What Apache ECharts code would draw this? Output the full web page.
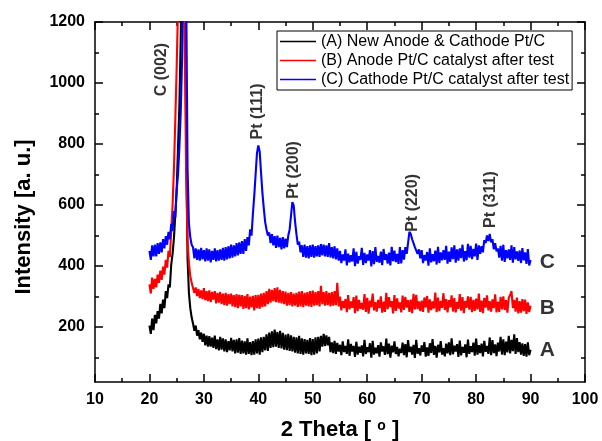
<!DOCTYPE html>
<html>
<head>
<meta charset="utf-8">
<script src="https://cdn.jsdelivr.net/npm/echarts@6/dist/echarts.min.js"></script>
<style>html,body{margin:0;padding:0;background:#fff}#c{width:602px;height:441px}</style>
</head>
<body>
<div id="c"></div>
<script>
// 2θ sampling grid (degrees)
const twoThetaStart = 20, twoThetaStep = 0.25;

// (A) New Anode & Cathode Pt/C  -- 4 samples per degree, 20..90
const seriesA = [
205,178,228,190, 240,212,252,228, 276,245,290,262, 318,295,340,330, 405,440,492,568,
650,790,925,1150, 1500,1900,1400,800, 425,312,262,232, 212,188,205,172, 190,160,182,152,
178,140,172,136, 170,136,165,132, 172,128,160,124, 168,126,163,120, 160,118,154,124,
165,120,158,114, 160,116,164,112, 156,114,153,110, 163,112,151,108, 154,110,160,114,
162,110,166,118, 168,124,176,122, 182,132,186,134, 192,136,184,132, 188,130,181,126,
175,124,178,122, 173,120,168,116, 166,114,171,112, 163,110,161,114, 158,112,164,108,
161,110,166,114, 168,120,171,136, 178,138,173,140, 168,118,150,115, 155,112,148,120,
142,108,153,118, 138,112,160,106, 145,120,138,102, 152,110,136,116, 140,104,158,112,
134,118,147,100, 155,110,132,114, 141,103,150,120, 137,109,162,111, 146,100,139,117,
153,112,135,104, 129,115,149,108, 144,101,157,118, 136,110,142,99, 158,113,131,107,
140,119,151,103, 133,106,147,115, 161,109,138,100, 142,117,154,110, 131,104,146,114,
150,108,163,111, 139,120,144,102, 156,107,135,116, 143,101,159,112, 137,118,149,106,
162,110,141,115, 146,104,155,119, 138,112,166,108, 157,115,143,105, 149,120,168,110,
160,108,152,117, 171,114,158,121, 176,112,164,118, 151,110,147,106, 144,103,150,108,
126
];

// (B) Anode Pt/C catalyst after test
const seriesB = [
340,310,362,325, 358,330,372,345, 385,355,398,372, 420,395,450,430, 515,600,720,880,
1050,1250,1500,1750, 1800,1600,1100,700, 480,410,368,345, 340,312,330,302, 325,295,320,292,
328,288,318,285, 320,282,315,290, 318,278,312,280, 315,275,310,272, 312,270,308,275,
310,268,305,265, 308,262,306,268, 305,260,302,262, 308,258,300,265, 302,255,305,262,
306,260,310,265, 312,268,318,275, 325,280,322,285, 328,282,330,280, 322,278,318,275,
316,270,312,272, 315,268,310,270, 312,266,316,268, 318,265,312,270, 315,268,318,266,
320,270,315,272, 318,268,335,275, 315,270,318,272, 312,268,315,270, 318,272,345,268,
300,255,286,262, 292,249,305,258, 284,263,298,246, 303,252,289,260, 279,257,308,250,
296,244,287,265, 310,255,282,251, 289,262,301,247, 283,250,312,259, 298,266,285,245,
305,253,294,261, 281,248,303,256, 299,264,288,250, 290,246,309,258, 306,259,284,252,
287,250,297,265, 302,247,291,256, 284,261,313,249, 297,252,286,263, 311,256,292,248,
288,265,304,251, 295,248,283,260, 308,254,298,246, 286,263,301,257, 299,249,289,253,
293,258,310,250, 287,246,296,264, 304,255,285,251, 291,262,307,248, 283,250,299,258,
301,256,288,247, 296,305,318,262, 289,251,297,245, 285,247,292,252, 290,243,281,249,
270
];

// (C) Cathode Pt/C catalyst after test
const seriesC = [
450,420,468,432, 470,432,475,440, 478,445,488,458, 498,470,512,488, 538,515,580,560,
650,700,790,905, 1080,1350,1800,1300, 720,540,495,470, 462,425,458,420, 455,418,460,422,
452,415,458,418, 455,412,450,420, 458,415,452,418, 455,420,460,418, 462,422,465,425,
470,428,468,432, 475,435,478,440, 482,440,488,450, 495,468,520,500, 570,630,700,770,
795,775,705,640, 590,545,520,500, 510,475,505,468, 498,460,500,462, 492,455,495,458,
490,462,500,520, 565,610,598,545, 505,470,480,445, 468,430,470,428, 465,425,468,430,
470,428,465,432, 468,430,472,435, 470,432,468,430, 475,428,462,425, 465,422,458,418,
450,410,438,418, 455,402,441,412, 436,415,458,400, 447,408,432,420, 460,404,443,410,
438,418,452,399, 449,406,462,414, 433,411,447,403, 456,420,439,408, 444,402,463,416,
451,413,440,407, 462,409,452,421, 462,440,475,512, 505,488,475,462, 468,440,455,425,
452,410,436,418, 446,401,458,412, 439,416,451,405, 463,410,445,419, 452,420,466,408,
447,414,461,423, 468,411,455,418, 458,426,470,415, 449,419,473,428, 466,423,456,432,
474,420,468,440, 465,445,485,475, 500,482,505,478, 488,455,475,448, 458,428,466,418,
470,414,452,425, 455,420,468,411, 462,422,448,417, 451,410,459,419, 445,407,456,402,
420
];

const seriesNames = ['(A) New Anode & Cathode Pt/C', '(B) Anode Pt/C catalyst after test', '(C) Cathode Pt/C catalyst after test'];
const seriesColors = ['#000000', '#ff0000', '#0000ff'];

// peak annotations (2θ, intensity)
const peakLabels = ['C (002)', 'Pt (111)', 'Pt (200)', 'Pt (220)', 'Pt (311)'];
const peakLabelX = [22.2, 39.8, 46.4, 68.3, 82.6];
const peakLabelY = [1044, 907, 715, 607, 618];

// curve letters
const curveLetters = ['C', 'B', 'A'];
const curveLetterX = [93.1, 93.1, 93.1];
const curveLetterY = [412, 261, 125];

// axis ticks
const xMin = 10, xMax = 100, xInterval = 10;
const yMin = 20, yMax = 1200;
const yMajorTicks = [200, 400, 600, 800, 1000, 1200];
const yMinorTicks = [100, 300, 500, 700, 900, 1100];

const FONT = 'Liberation Sans, Arial, Helvetica, sans-serif';

function toPairs(vals) {
  return vals.map((v, i) => [twoThetaStart + i * twoThetaStep, v]);
}

const lineSeries = [seriesA, seriesB, seriesC].map((vals, i) => ({
  name: seriesNames[i],
  type: 'line',
  data: toPairs(vals),
  symbol: 'none',
  showSymbol: false,
  clip: true,
  lineStyle: { color: seriesColors[i], width: 2.1 },
  itemStyle: { color: seriesColors[i] },
  z: 2 + i
}));

const axisLineStyle = { color: '#000', width: 1.5 };

function xAx(pos, showLabel) {
  return {
    type: 'value', position: pos, min: xMin, max: xMax, interval: xInterval,
    axisLine: { show: true, onZero: false, lineStyle: axisLineStyle },
    axisTick: { show: true, inside: true, length: 8, lineStyle: { color: '#000', width: 1.5 } },
    minorTick: { show: true, splitNumber: 2, length: 4, lineStyle: { color: '#000', width: 1.5 } },
    splitLine: { show: false }, minorSplitLine: { show: false },
    axisLabel: { show: showLabel, color: '#000', fontWeight: 'bold', fontSize: 16, fontFamily: FONT, margin: 10 }
  };
}

function yAx(pos, ticks, len, showLabel, showLine) {
  return {
    type: 'value', position: pos, min: yMin, max: yMax,
    axisLine: { show: showLine, onZero: false, lineStyle: axisLineStyle },
    axisTick: { show: true, inside: true, length: len, customValues: ticks, lineStyle: { color: '#000', width: 1.5 } },
    splitLine: { show: false },
    axisLabel: {
      show: showLabel, customValues: ticks, formatter: v => String(v),
      color: '#000', fontWeight: 'bold', fontSize: 16, fontFamily: FONT, margin: 10, padding: [6, 0, 0, 0]
    }
  };
}

const xBottom = xAx('bottom', true);
xBottom.name = '2 Theta [ {sup|o} ]';
xBottom.nameLocation = 'middle';
xBottom.nameGap = 37;
xBottom.nameTextStyle = {
  color: '#000', fontWeight: 'bold', fontSize: 22, fontFamily: FONT,
  rich: { sup: { fontSize: 14, fontWeight: 'bold', fontFamily: FONT, color: '#000', verticalAlign: 'top', padding: [0, 0, 8, 0] } }
};

const yLeft = yAx('left', yMajorTicks, 8, true, true);
yLeft.name = 'Intensity [a. u.]';
yLeft.nameLocation = 'middle';
yLeft.nameGap = 60;
yLeft.nameRotate = 90;
yLeft.nameTextStyle = { color: '#000', fontWeight: 'bold', fontSize: 22, fontFamily: FONT, padding: [0, 30, 0, 0] };

const option = {
  animation: false,
  backgroundColor: '#fff',
  grid: { left: 95, right: 17, top: 22, bottom: 59, containLabel: false, outerBoundsMode: 'none' },
  legend: {
    data: seriesNames,
    orient: 'vertical',
    left: 277, top: 31,
    icon: 'rect',
    itemWidth: 36, itemHeight: 1.5, itemGap: 0,
    padding: [1, 3, 1, 3],
    borderColor: '#000', borderWidth: 1,
    backgroundColor: '#fff',
    textStyle: { color: '#000', fontSize: 16, lineHeight: 19, fontFamily: FONT }
  },
  xAxis: [xBottom, xAx('top', false)],
  yAxis: [
    yLeft,
    yAx('left', yMinorTicks, 4, false, false),
    yAx('right', yMajorTicks, 8, false, true),
    yAx('right', yMinorTicks, 4, false, false)
  ],
  series: lineSeries.concat([
    {
      type: 'scatter', silent: true, z: 10,
      data: peakLabelX.map((x, i) => [x, peakLabelY[i], peakLabels[i]]),
      symbolSize: 1, itemStyle: { color: 'transparent' },
      label: { show: true, position: 'inside', rotate: 90, formatter: p => p.value[2], color: '#000', fontWeight: 'bold', fontSize: 16, fontFamily: FONT }
    },
    {
      type: 'scatter', silent: true, z: 10,
      data: curveLetterX.map((x, i) => [x, curveLetterY[i], curveLetters[i]]),
      symbolSize: 1, itemStyle: { color: 'transparent' },
      label: { show: true, position: 'inside', formatter: p => p.value[2], color: '#000', fontWeight: 'bold', fontSize: 21, fontFamily: FONT }
    }
  ])
};

const chart = echarts.init(document.getElementById('c'), null, { renderer: 'canvas' });
chart.setOption(option);
</script>
</body>
</html>
